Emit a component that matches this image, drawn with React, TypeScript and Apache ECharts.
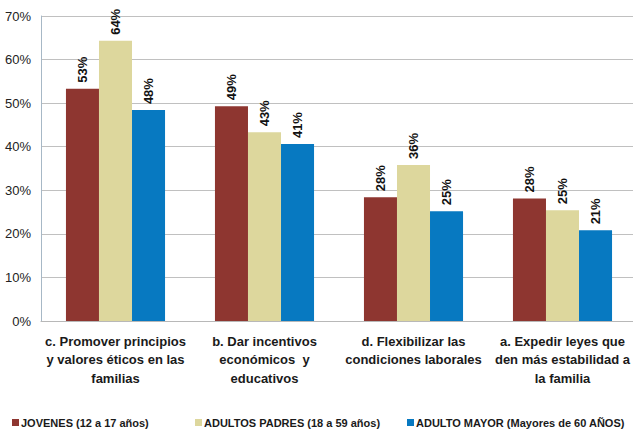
import React, { useEffect, useRef } from "react";
import * as echarts from "echarts";

const categories = [
  "c. Promover principios\ny valores éticos en las\nfamilias",
  "b. Dar incentivos\neconómicos  y\neducativos",
  "d. Flexibilizar las\ncondiciones laborales",
  "a. Expedir leyes que\nden más estabilidad a\nla familia",
];
const seriesNames = [
  "JOVENES (12 a 17 años)",
  "ADULTOS PADRES (18 a 59 años)",
  "ADULTO MAYOR (Mayores de 60 AÑOS)",
];
const jovenes = [53.3, 49.3, 28.4, 28.1];
const adultosPadres = [64.3, 43.3, 35.8, 25.4];
const adultoMayor = [48.4, 40.6, 25.2, 20.8];
const colors = ["#8E3630", "#DDD79D", "#0779C1"];
const yTicks = [0, 10, 20, 30, 40, 50, 60, 70];

const FONT = "'Liberation Sans', Arial, sans-serif";

export default function App() {
  const ref = useRef<HTMLDivElement>(null);
  useEffect(() => {
    if (!ref.current) return;
    const chart = echarts.init(ref.current, undefined, { renderer: "svg" });
    const values = [jovenes, adultosPadres, adultoMayor];
    const legendLefts = [12, 195, 407];
    chart.setOption({
      animation: false,
      backgroundColor: "#ffffff",
      textStyle: { fontFamily: FONT },
      grid: {
        left: 41,
        right: -4,
        top: 16,
        bottom: 109,
        containLabel: false,
        outerBoundsMode: "none",
      },
      legend: seriesNames.map((n, i) => ({
        data: [n],
        left: legendLefts[i],
        top: 417,
        icon: "rect",
        itemWidth: 7,
        itemHeight: 7,
        itemGap: 4,
        padding: 0,
        textStyle: { fontFamily: FONT, fontWeight: "bold", fontSize: 11, color: "#1a1a1a", padding: [0, 0, 0, -3] },
      })),
      xAxis: {
        type: "category",
        data: categories,
        axisTick: { show: false },
        axisLine: { lineStyle: { color: "#b8b8b8" } },
        axisLabel: {
          fontFamily: FONT,
          fontWeight: "bold",
          fontSize: 13,
          color: "#1a1a1a",
          lineHeight: 18.5,
          margin: 11,
          interval: 0,
        },
      },
      yAxis: {
        type: "value",
        min: yTicks[0],
        max: yTicks[yTicks.length - 1],
        interval: 10,
        axisLine: { show: true, lineStyle: { color: "#a7b8c6" } },
        axisTick: { show: false },
        splitLine: { lineStyle: { color: "#c0c0c0", width: 1 } },
        axisLabel: {
          formatter: (v: number) => `${v}%`,
          fontFamily: FONT,
          fontSize: 13,
          color: "#222",
          margin: 10,
        },
      },
      series: values.map((d, i) => ({
        name: seriesNames[i],
        type: "bar",
        data: d,
        barGap: "0%",
        barCategoryGap: "33.5%",
        itemStyle: { color: colors[i] },
        label: {
          show: true,
          position: "top",
          rotate: 90,
          align: "left",
          verticalAlign: "middle",
          distance: 6,
          formatter: (p: any) => `${Math.round(p.value)}%`,
          fontFamily: FONT,
          fontWeight: "bold",
          fontSize: 13,
          color: "#111",
        },
      })),
    });
    return () => chart.dispose();
  }, []);
  return (
    <div
      ref={ref}
      style={{ position: "fixed", left: 0, top: 0, width: 633, height: 430 }}
    />
  );
}
